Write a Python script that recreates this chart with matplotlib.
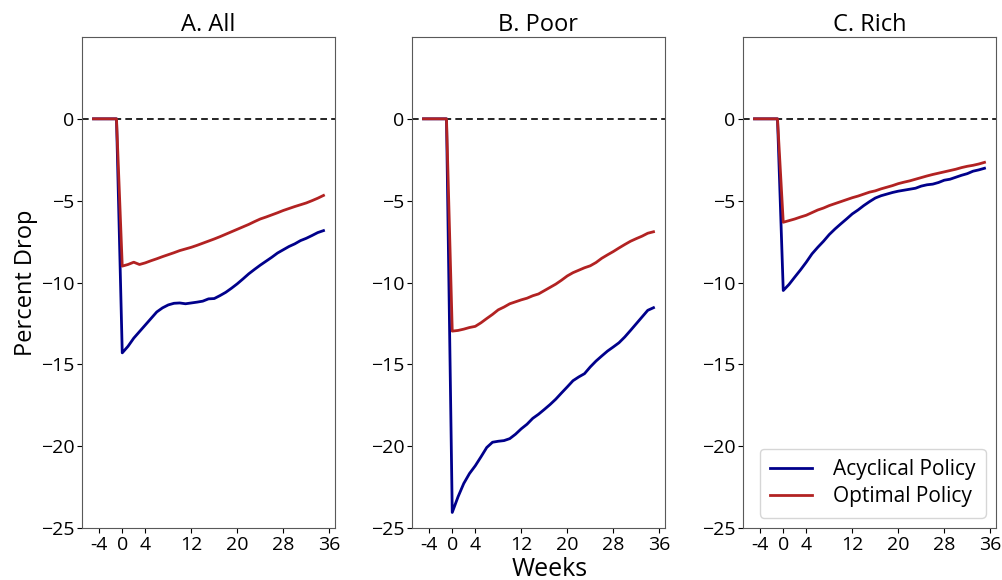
import numpy as np
import matplotlib
matplotlib.use("Agg")
import matplotlib.pyplot as plt

plt.rcParams['font.family'] = ['Open Sans', 'DejaVu Sans']

# weeks -5..35, flat at zero before the shock
weeks = list(range(-5, 36))
pre = [0, 0, 0, 0, 0]

all_acyc = [-14.3, -13.9, -13.4, -13.0, -12.6, -12.2, -11.8, -11.55, -11.37, -11.27,
            -11.25, -11.3, -11.25, -11.2, -11.14, -11.0, -10.98, -10.8, -10.6, -10.35,
            -10.08, -9.78, -9.47, -9.2, -8.94, -8.7, -8.46, -8.2, -8.0, -7.8,
            -7.64, -7.44, -7.3, -7.13, -6.95, -6.83]
all_opt = [-9.0, -8.9, -8.76, -8.9, -8.8, -8.67, -8.55, -8.42, -8.3, -8.18,
           -8.05, -7.95, -7.85, -7.73, -7.6, -7.47, -7.34, -7.2, -7.05, -6.9,
           -6.75, -6.6, -6.45, -6.28, -6.12, -6.0, -5.87, -5.74, -5.6, -5.48,
           -5.36, -5.25, -5.14, -5.0, -4.85, -4.68]

poor_acyc = [-24.05, -23.1, -22.28, -21.67, -21.2, -20.65, -20.08, -19.76, -19.7, -19.66,
             -19.54, -19.27, -18.94, -18.66, -18.3, -18.05, -17.76, -17.46, -17.13, -16.75,
             -16.38, -16.0, -15.77, -15.57, -15.16, -14.8, -14.49, -14.19, -13.94, -13.68,
             -13.33, -12.93, -12.52, -12.11, -11.7, -11.54]
poor_opt = [-12.97, -12.93, -12.85, -12.75, -12.68, -12.46, -12.2, -11.95, -11.67, -11.5,
            -11.3, -11.18, -11.06, -10.96, -10.81, -10.7, -10.5, -10.3, -10.1, -9.86,
            -9.6, -9.4, -9.25, -9.1, -8.98, -8.78, -8.52, -8.31, -8.11, -7.89,
            -7.68, -7.48, -7.32, -7.17, -6.99, -6.9]

rich_acyc = [-10.49, -10.12, -9.67, -9.23, -8.76, -8.25, -7.85, -7.48, -7.07, -6.73,
             -6.42, -6.12, -5.81, -5.57, -5.3, -5.06, -4.84, -4.7, -4.6, -4.5,
             -4.42, -4.36, -4.3, -4.24, -4.11, -4.03, -3.99, -3.89, -3.75, -3.69,
             -3.57, -3.45, -3.35, -3.2, -3.12, -3.02]
rich_opt = [-6.32, -6.22, -6.12, -6.0, -5.89, -5.73, -5.57, -5.45, -5.3, -5.18,
            -5.06, -4.94, -4.82, -4.72, -4.6, -4.48, -4.4, -4.28, -4.18, -4.08,
            -3.96, -3.87, -3.79, -3.69, -3.59, -3.49, -3.4, -3.32, -3.24, -3.16,
            -3.08, -2.98, -2.9, -2.84, -2.76, -2.66]

titles = ["A. All", "B. Poor", "C. Rich"]
series = [(all_acyc, all_opt), (poor_acyc, poor_opt), (rich_acyc, rich_opt)]
xticks = [-4, 0, 4, 12, 20, 28, 36]
xticklabels = ["-4", "0", "4", "12", "20", "28", "36"]
yticks = [-25, -20, -15, -10, -5, 0]

fig = plt.figure(figsize=(10.02, 5.8), dpi=100)
lefts = [82, 412, 743]
for k in range(3):
    ax = fig.add_axes([lefts[k] / 1002, 1 - 528 / 580, 253 / 1002, (528 - 37) / 580])
    acyc, opt = series[k]
    ax.axhline(0, color="black", ls="--", lw=1.2, dashes=(4, 2.5))
    ax.plot(weeks, pre + acyc, color="darkblue", lw=2, label="Acyclical Policy")
    ax.plot(weeks, pre + opt, color="firebrick", lw=2, label="Optimal Policy")
    ax.set_xlim(-7, 37)
    ax.set_ylim(-25, 5)
    ax.set_xticks(xticks)
    ax.set_xticklabels(xticklabels)
    ax.set_yticks(yticks)
    ax.tick_params(labelsize=14, pad=2)
    ax.set_title(titles[k], fontsize=17, pad=4)
    for sp in ax.spines.values():
        sp.set_color("0.35")
    if k == 0:
        ax.set_ylabel("Percent Drop", fontsize=17, labelpad=2)
    if k == 2:
        ax.legend(loc="lower right", fontsize=15, handlelength=2.0,
                  borderpad=0.5, labelspacing=0.3, handletextpad=1.0)

fig.text(550 / 1002, 4 / 580, "Weeks", fontsize=18, ha="center", va="baseline")

fig.savefig("out.png", dpi=100)
